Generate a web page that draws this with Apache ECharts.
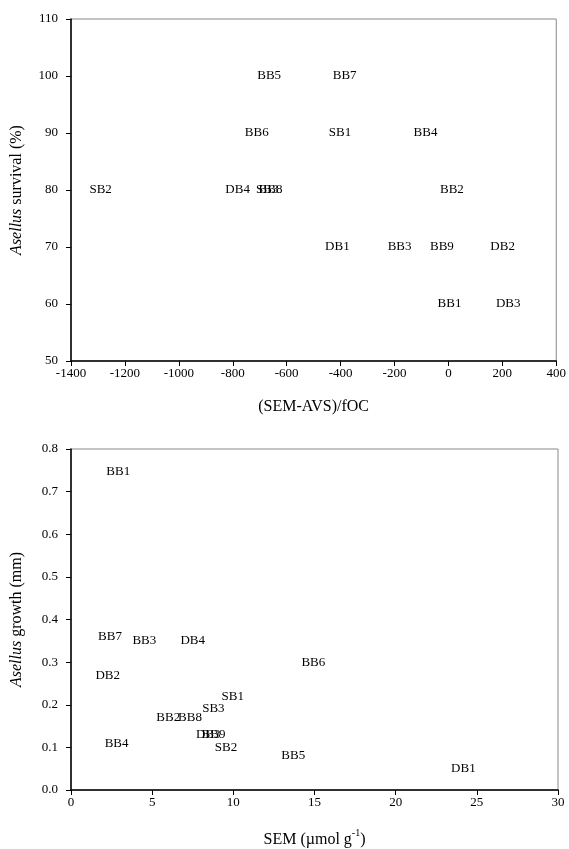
<!DOCTYPE html>
<html>
<head>
<meta charset="utf-8">
<script src="https://cdn.jsdelivr.net/npm/echarts@6/dist/echarts.min.js"></script>
<style>
html,body{margin:0;padding:0;background:#fff;}
#chart{width:569px;height:849px;}
</style>
</head>
<body>
<div id="chart"></div>
<script>
// Top panel: (SEM-AVS)/fOC vs Asellus survival (%)
const topSites    = ['SB2','DB4','BB6','BB5','SB3','BB8','SB1','BB7','BB4','BB2','DB1','BB3','BB9','DB2','BB1','DB3'];
const topSemAvs   = [-1290,-782,-711,-665,-672,-660,-402,-385,-85,13,-412,-181,-24,201,4,222];
const topSurvival = [80,80,90,100,80,80,90,100,90,80,70,70,70,70,60,60];
const topXTicks = {min:-1400,max:400,interval:200};
const topYTicks = {min:50,max:110,interval:10};

// Bottom panel: SEM vs Asellus growth (mm)
const botSites  = ['BB1','BB7','BB3','DB4','DB2','BB6','SB1','SB3','BB2','BB8','DB3','BB9','BB4','SB2','BB5','DB1'];
const botSem    = [2.91,2.40,4.52,7.50,2.26,14.93,9.96,8.77,5.99,7.33,8.45,8.78,2.81,9.55,13.69,24.17];
const botGrowth = [0.747,0.361,0.350,0.350,0.269,0.300,0.219,0.191,0.169,0.169,0.129,0.129,0.110,0.100,0.080,0.051];
const botXTicks = {min:0,max:30,interval:5};
const botYTicks = {min:0,max:0.8,interval:0.1};

const FONT = '"Liberation Serif","Times New Roman",serif';

function mkData(names, xs, ys){
  return names.map((n,i)=>({name:n, value:[xs[i], ys[i]]}));
}

function xAxisCfg(grid, ticks, name, nameRich){
  return {
    type:'value', gridIndex:grid, min:ticks.min, max:ticks.max, interval:ticks.interval,
    name:name, nameLocation:'middle', nameGap:38,
    nameTextStyle:{fontFamily:FONT, fontSize:16, color:'#000', rich:nameRich||{}},
    axisLine:{show:true, onZero:false, lineStyle:{color:'#000', width:1.5}},
    axisTick:{show:true, inside:false, length:5, lineStyle:{color:'#000', width:1}},
    axisLabel:{fontFamily:FONT, fontSize:13, color:'#000', margin:6, formatter:v=>String(v)},
    splitLine:{show:false}
  };
}
function yAxisCfg(grid, ticks, name, fmt){
  return {
    type:'value', gridIndex:grid, min:ticks.min, max:ticks.max, interval:ticks.interval,
    name:name, nameLocation:'middle', nameGap:46, nameRotate:90,
    nameTextStyle:{fontFamily:FONT, fontSize:16, color:'#000',
      rich:{i:{fontFamily:FONT, fontSize:16, fontStyle:'italic', color:'#000'}, n:{fontFamily:FONT, fontSize:16, color:'#000'}}},
    axisLine:{show:true, onZero:false, lineStyle:{color:'#000', width:1.5}},
    axisTick:{show:true, inside:false, length:5, lineStyle:{color:'#000', width:1}},
    axisLabel:{fontFamily:FONT, fontSize:13, color:'#000', margin:13, formatter:fmt},
    splitLine:{show:false}
  };
}

const labelCfg = {show:true, position:'inside', formatter:'{b}', fontFamily:FONT, fontSize:13,
  color:'#000', textBorderWidth:0, opacity:1};

const chart = echarts.init(document.getElementById('chart'), null, {renderer:'canvas'});
chart.setOption({
  backgroundColor:'#fff',
  animation:false,
  grid:[
    {left:71, right:11, top:19, height:342, show:true, borderColor:'#888', borderWidth:1, backgroundColor:'transparent'},
    {left:71, right:11, top:449, height:342, show:true, borderColor:'#888', borderWidth:1, backgroundColor:'transparent'}
  ],
  xAxis:[
    xAxisCfg(0, topXTicks, '(SEM-AVS)/fOC'),
    xAxisCfg(1, botXTicks, '{n|SEM (µmol g}{s|-1}{n|)}', {
      n:{fontFamily:FONT, fontSize:16, color:'#000', lineHeight:20, verticalAlign:'bottom'},
      s:{fontFamily:FONT, fontSize:10, color:'#000', lineHeight:20, verticalAlign:'top'}
    })
  ],
  yAxis:[
    yAxisCfg(0, topYTicks, '{i|Asellus}{n| survival (%)}', v=>String(v)),
    yAxisCfg(1, botYTicks, '{i|Asellus}{n| growth (mm)}', v=>v.toFixed(1))
  ],
  series:[
    {type:'scatter', xAxisIndex:0, yAxisIndex:0, symbolSize:1,
     itemStyle:{color:'rgba(0,0,0,0)'}, label:labelCfg, emphasis:{disabled:true},
     data:mkData(topSites, topSemAvs, topSurvival)},
    {type:'scatter', xAxisIndex:1, yAxisIndex:1, symbolSize:1,
     itemStyle:{color:'rgba(0,0,0,0)'}, label:labelCfg, emphasis:{disabled:true},
     data:mkData(botSites, botSem, botGrowth)}
  ]
});
</script>
</body>
</html>
